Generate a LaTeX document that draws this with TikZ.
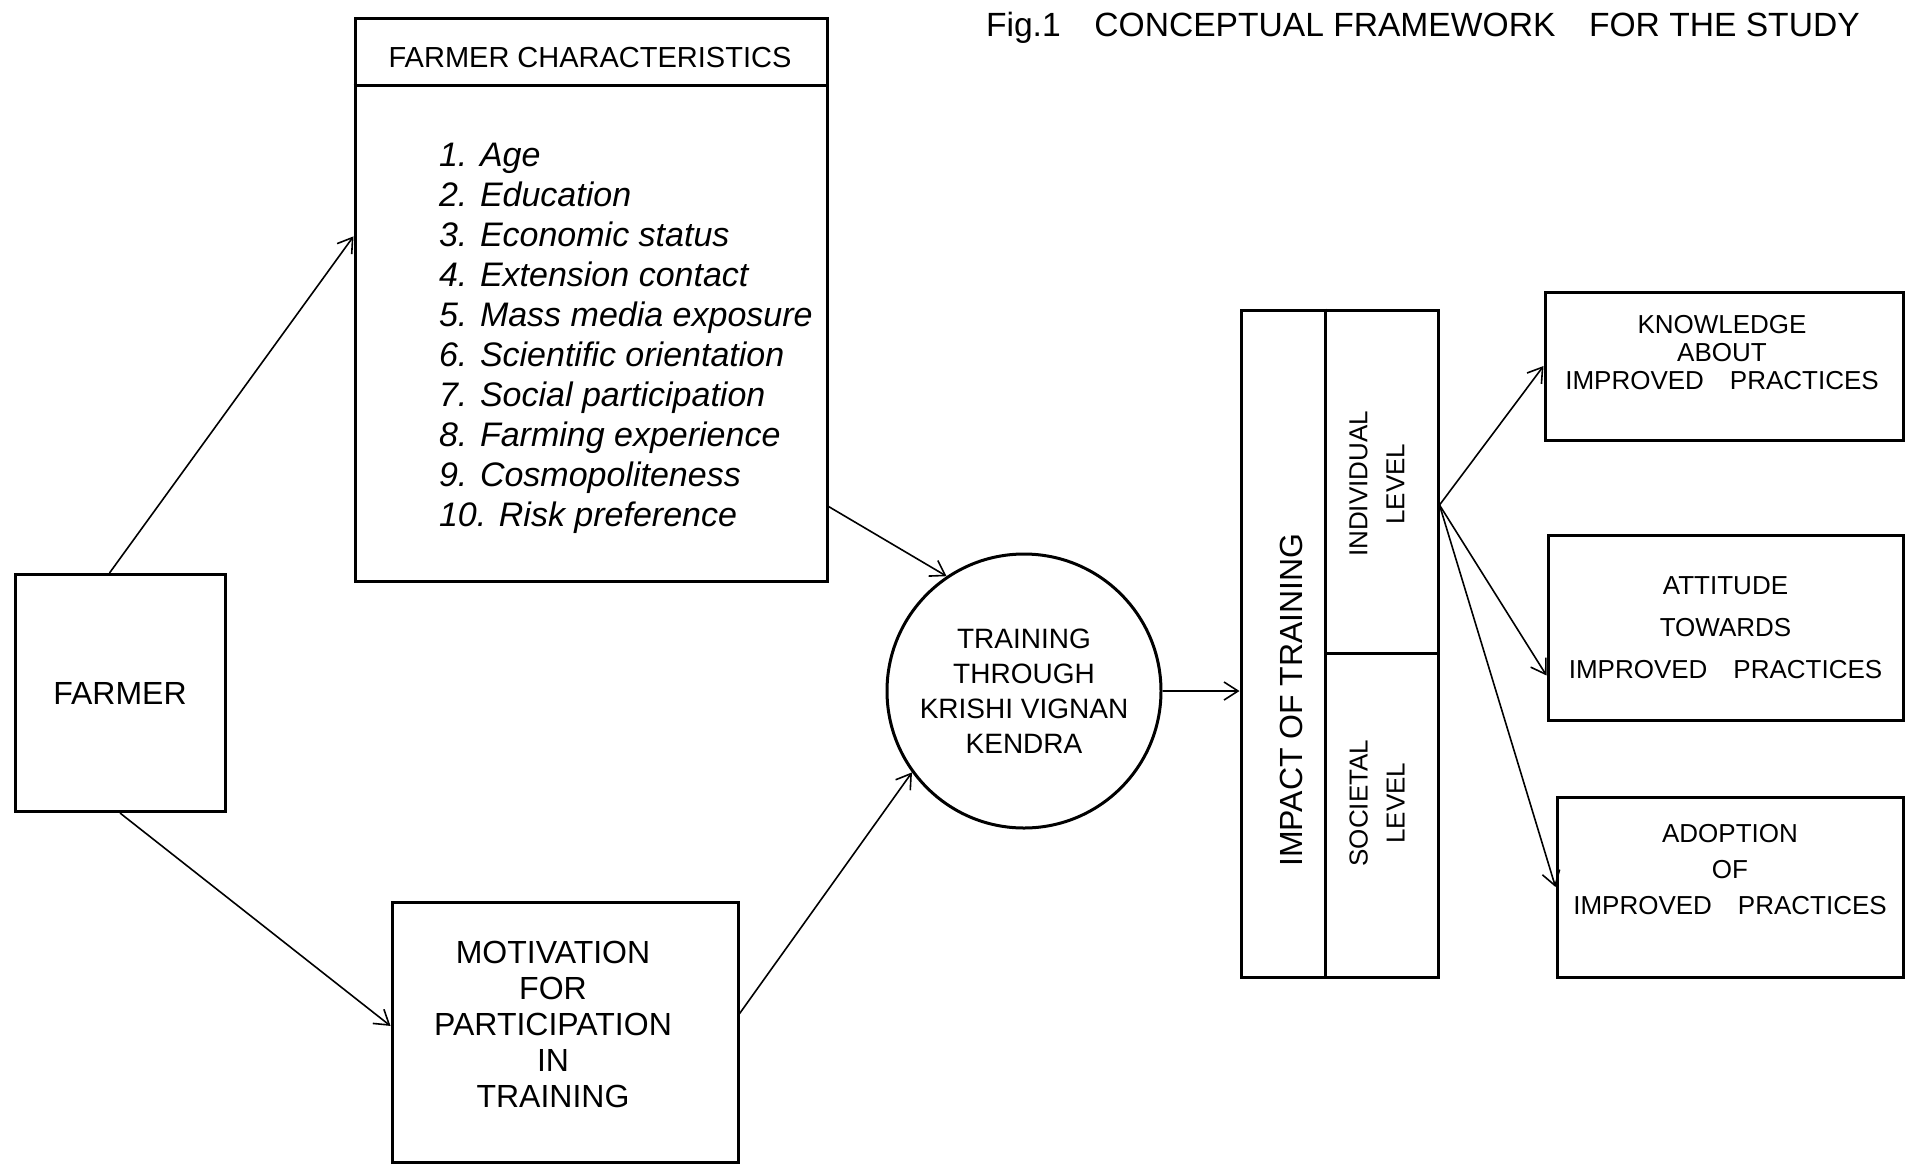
\documentclass[tikz,border=0pt]{standalone}
\usepackage{fontspec}
\setmainfont{Liberation Sans}
\usetikzlibrary{arrows.meta}

\begin{document}
\begin{tikzpicture}[x=0.5pt,y=-0.5pt,
  box/.style={draw,line width=1.5pt,align=center,inner sep=0pt},
  link/.style={line width=0.8pt,-{Straight Barb[length=7pt,width=9pt]}}]
%%\draw[help lines] (0,0) grid[step=100] (1907,1168);
\useasboundingbox (0,0) rectangle (1907,1168);
\node[anchor=west,font=\fontsize{16.8}{18}\selectfont] (title) at (979,28) {Fig.1\quad CONCEPTUAL FRAMEWORK\quad FOR THE STUDY};
%% left part
\node[box,minimum width=105pt,minimum height=118.5pt,font=\fontsize{16}{18}\selectfont] (farmer) at (120,693) {FARMER};
\node[box,minimum width=236pt,minimum height=281.5pt] (fc) at (591,300) {};
\node[font=\fontsize{14.5}{16}\selectfont] (fchead) at (590,58) {FARMER CHARACTERISTICS};
\draw[line width=1.5pt] (fc.west |- 0,85) -- (fc.east |- 0,85);
\node[anchor=west,align=left,font=\itshape\fontsize{17}{20}\selectfont] (traits) at (432,338) {1. Age\\2. Education\\3. Economic status\\4. Extension contact\\5. Mass media exposure\\6. Scientific orientation\\7. Social participation\\8. Farming experience\\9. Cosmopoliteness\\10. Risk preference};
\node[box,minimum width=173pt,minimum height=130pt] (motiv) at (565,1032) {};
\node[align=center,font=\fontsize{16}{18}\selectfont] (motivtext) at (553,1024) {MOTIVATION\\FOR\\PARTICIPATION\\IN\\TRAINING};
\node[draw,circle,line width=1.5pt,minimum size=137pt,align=center,inner sep=0pt,font=\fontsize{14}{17.5}\selectfont] (kvk) at (1024,691) {TRAINING\\THROUGH\\KRISHI VIGNAN\\KENDRA};
%% impact box
\node[box,minimum width=98.5pt,minimum height=333.5pt] (impact) at (1339.5,643.5) {};
\draw[line width=1.5pt] (1325,0 |- impact.north) -- (1325,0 |- impact.south);
\draw[line width=1.5pt] (1325,653) -- (impact.east |- 0,653);
\node[rotate=90,font=\fontsize{16}{18}\selectfont] (imptext) at (1291,700) {IMPACT OF TRAINING};
\node[rotate=90,align=center,font=\fontsize{13}{18.5}\selectfont] (indiv) at (1377,484) {INDIVIDUAL\\LEVEL};
\node[rotate=90,align=center,font=\fontsize{13}{18.5}\selectfont] (societal) at (1377,803) {SOCIETAL\\LEVEL};
%% right part
\node[box,minimum width=179pt,minimum height=74pt] (know) at (1724,366) {};
\node[align=center,font=\fontsize{13}{14}\selectfont] (knowtext) at (1722,353) {KNOWLEDGE\\ABOUT\\IMPROVED\quad PRACTICES};
\node[box,minimum width=177.5pt,minimum height=92.5pt,font=\fontsize{13}{21}\selectfont] (att) at (1725.5,627.5) {ATTITUDE\\TOWARDS\\IMPROVED\quad PRACTICES};
\node[box,minimum width=173pt,minimum height=90pt] (adopt) at (1730,887) {};
\node[align=center,font=\fontsize{13}{18}\selectfont] (adopttext) at (1730,870) {ADOPTION\\OF\\IMPROVED\quad PRACTICES};
%% arrows
\draw[link] (farmer.95) -- (fc.165);
\draw[link] (farmer.south) -- (motiv.178);
\draw[link] (fc.-41) -- (kvk.124);
\draw[link] (motiv.6) -- (kvk.216);
\draw[link] (kvk.east) -- (kvk.east -| impact.west);
\coordinate (fan) at (impact.east |- 0,505);
\draw[link] (fan) -- (know.west);
\draw[link] (fan) -- (att.195);
\draw[link] (fan) -- (adopt.west);
\end{tikzpicture}
\end{document}
